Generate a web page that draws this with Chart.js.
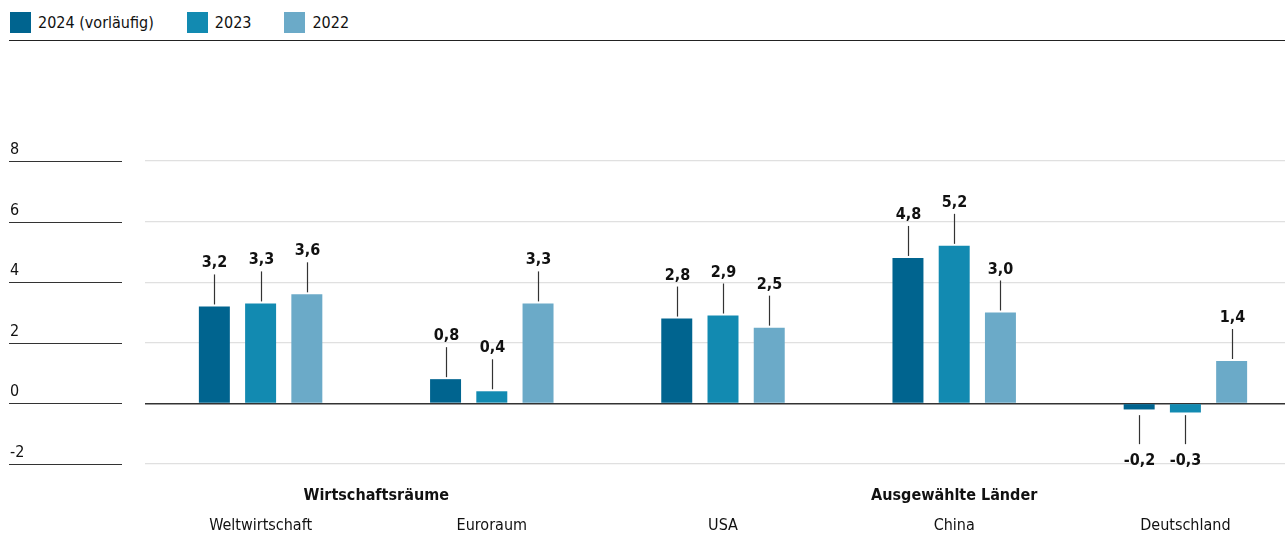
<!DOCTYPE html>
<html lang="de">
<head>
<meta charset="utf-8">
<script src="https://cdn.jsdelivr.net/npm/chart.js@4.4.1/dist/chart.umd.min.js"></script>
<style>
  html, body { margin: 0; padding: 0; overflow: hidden; background: #fff; }
  body { width: 1285px; height: 533px; position: relative; font-family: "DejaVu Sans Condensed", sans-serif; color: #111; }
  #legend { position: absolute; left: 10px; top: 12px; display: flex; align-items: center; font-size: 16px; line-height: 21px; }
  #legend .item { display: flex; align-items: center; margin-right: 33px; }
  #legend .box { width: 21px; height: 21px; margin-right: 7px; }
  #rule { position: absolute; left: 9px; top: 40px; width: 1290px; border-top: 1.5px solid #222; }
  #chart { position: absolute; left: 0; top: 0; }
</style>
</head>
<body>
<div id="legend"></div>
<div id="rule"></div>
<canvas id="chart" width="1301" height="533"></canvas>
<script>
const categories = ['Weltwirtschaft', 'Euroraum', 'USA', 'China', 'Deutschland'];
const seriesNames = ['2024 (vorläufig)', '2023', '2022'];
const values2024 = [3.2, 0.8, 2.8, 4.8, -0.2];
const values2023 = [3.3, 0.4, 2.9, 5.2, -0.3];
const values2022 = [3.6, 3.3, 2.5, 3.0, 1.4];
const yTicks = [8, 6, 4, 2, 0, -2];
const groupLabels = ['Wirtschaftsräume', 'Ausgewählte Länder'];
const groupFirst = [0, 2];
const groupLast = [1, 4];

const colors = ['#00648f', '#128ab1', '#6baac8'];
const fontFamily = '"DejaVu Sans Condensed", sans-serif';

// legend above the plot
const legendEl = document.getElementById('legend');
seriesNames.forEach((name, i) => {
    const item = document.createElement('div');
    item.className = 'item';
    const box = document.createElement('span');
    box.className = 'box';
    box.style.background = colors[i];
    const label = document.createElement('span');
    label.textContent = name;
    item.appendChild(box);
    item.appendChild(label);
    legendEl.appendChild(item);
});

const fmt = v => v.toFixed(1).replace('.', ',');

// y tick labels sit on short rules left of the plot
const leftAxis = {
    id: 'leftAxis',
    afterDraw(chart) {
        const ctx = chart.ctx;
        const y = chart.scales.y;
        ctx.save();
        ctx.font = '16px ' + fontFamily;
        ctx.fillStyle = '#111';
        ctx.textAlign = 'left';
        ctx.textBaseline = 'alphabetic';
        ctx.strokeStyle = '#333';
        ctx.lineWidth = 1.2;
        for (const t of yTicks) {
            const py = Math.round(y.getPixelForValue(t)) + 0.5;
            ctx.beginPath();
            ctx.moveTo(9, py);
            ctx.lineTo(122, py);
            ctx.stroke();
            ctx.fillText(String(t), 10, py - 8);
        }
        ctx.restore();
    }
};

// value labels with leader lines
const valueLabels = {
    id: 'valueLabels',
    afterDatasetsDraw(chart) {
        const ctx = chart.ctx;
        ctx.save();
        ctx.font = 'bold 16px ' + fontFamily;
        ctx.fillStyle = '#111';
        ctx.textAlign = 'center';
        ctx.textBaseline = 'alphabetic';
        ctx.strokeStyle = '#333';
        ctx.lineWidth = 1.2;
        chart.data.datasets.forEach((ds, di) => {
            const meta = chart.getDatasetMeta(di);
            meta.data.forEach((bar, i) => {
                const v = ds.data[i];
                const x = Math.round(bar.x) + 0.5;
                ctx.beginPath();
                if (v >= 0) {
                    ctx.moveTo(x, bar.y - 2);
                    ctx.lineTo(x, bar.y - 32);
                    ctx.stroke();
                    ctx.fillText(fmt(v), x, bar.y - 39);
                } else {
                    const top = bar.base + 11;
                    ctx.moveTo(x, top);
                    ctx.lineTo(x, top + 29);
                    ctx.stroke();
                    ctx.fillText(fmt(v), x, top + 50);
                }
            });
        });
        ctx.restore();
    }
};

// category names and bold group headings below the plot
const bottomLabels = {
    id: 'bottomLabels',
    afterDraw(chart) {
        const ctx = chart.ctx;
        const x = chart.scales.x;
        ctx.save();
        ctx.fillStyle = '#111';
        ctx.textAlign = 'center';
        ctx.textBaseline = 'alphabetic';
        ctx.font = 'bold 16px ' + fontFamily;
        groupLabels.forEach((g, i) => {
            const cx = (x.getPixelForValue(groupFirst[i]) + x.getPixelForValue(groupLast[i])) / 2;
            ctx.fillText(g, cx, 500);
        });
        ctx.font = '16px ' + fontFamily;
        categories.forEach((c, i) => {
            ctx.fillText(c, x.getPixelForValue(i), 530);
        });
        ctx.restore();
    }
};

new Chart(document.getElementById('chart'), {
    type: 'bar',
    data: {
        labels: categories,
        datasets: [
            { label: seriesNames[0], data: values2024, backgroundColor: colors[0] },
            { label: seriesNames[1], data: values2023, backgroundColor: colors[1] },
            { label: seriesNames[2], data: values2022, backgroundColor: colors[2] }
        ]
    },
    options: {
        responsive: false,
        animation: false,
        devicePixelRatio: 1,
        layout: { padding: { left: 145, top: 161, right: 0, bottom: 69 } },
        datasets: {
            bar: { categoryPercentage: 0.6, barPercentage: 0.67, borderWidth: 0 }
        },
        plugins: {
            legend: { display: false },
            tooltip: { enabled: false }
        },
        scales: {
            x: {
                grid: { display: false, drawTicks: false },
                border: { display: false },
                ticks: { display: false }
            },
            y: {
                min: -2,
                max: 8,
                ticks: { display: false, stepSize: 2 },
                border: { display: false },
                grid: {
                    drawTicks: false,
                    color: ctx => ctx.tick && ctx.tick.value === 0 ? '#333' : '#e0e0e0',
                    lineWidth: ctx => ctx.tick && ctx.tick.value === 0 ? 1.5 : 1.2
                }
            }
        }
    },
    plugins: [leftAxis, valueLabels, bottomLabels]
});
</script>
</body>
</html>
